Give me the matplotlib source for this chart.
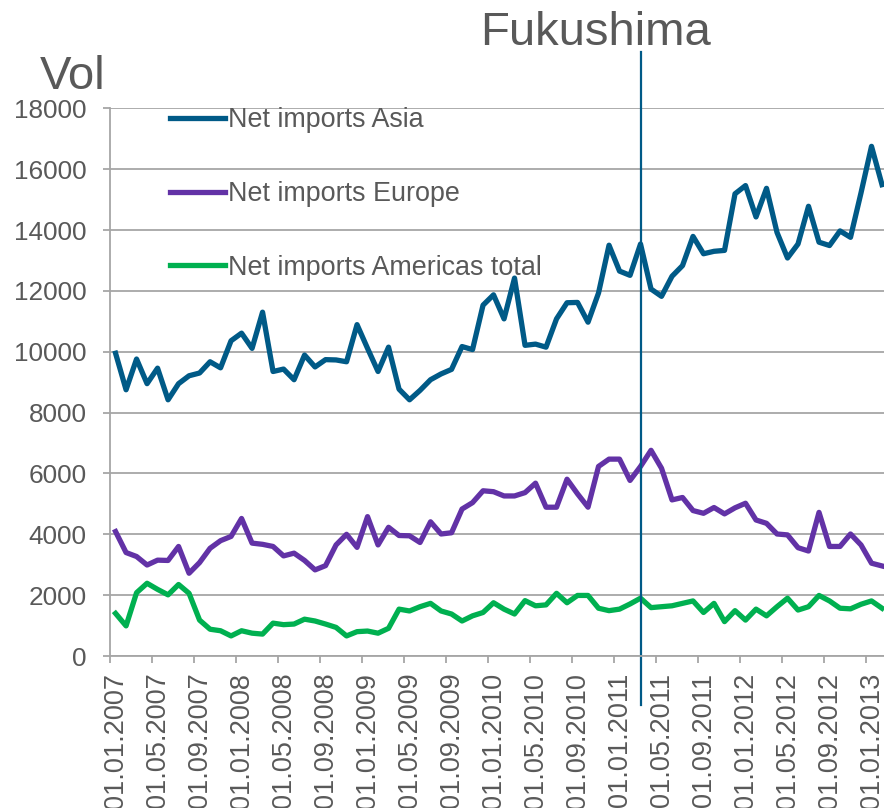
import matplotlib
matplotlib.use("Agg")
import matplotlib.pyplot as plt
import numpy as np
import pandas as pd

plt.rcParams['font.family'] = ['Liberation Sans', 'DejaVu Sans']

# monthly categories, Jan 2007 - Feb 2013
months = pd.date_range("2007-01-01", periods=74, freq="MS")
tick_every = 4

asia = [9950, 8750, 9760, 8950, 9460, 8420, 8950, 9210, 9300, 9670,
        9470, 10360, 10610, 10110, 11300, 9350, 9430, 9080, 9890, 9500,
        9740, 9730, 9670, 10890, 10110, 9350, 10150, 8770, 8420, 8730,
        9080, 9270, 9420, 10170, 10070, 11530, 11870, 11080, 12420, 10210,
        10250, 10150, 11080, 11610, 11620, 10970, 11930, 13500, 12650, 12510,
        13540, 12060, 11820, 12480, 12830, 13790, 13220, 13300, 13330, 15190,
        15460, 14430, 15370, 13920, 13080, 13540, 14780, 13600, 13490, 13970,
        13760, 15220, 16750, 15490]

europe = [4090, 3400, 3270, 2990, 3150, 3140, 3600, 2720, 3070, 3540,
          3790, 3930, 4520, 3710, 3670, 3600, 3290, 3380, 3140, 2830,
          2970, 3650, 4000, 3570, 4580, 3650, 4230, 3960, 3950, 3730,
          4410, 4010, 4050, 4830, 5040, 5430, 5400, 5260, 5260, 5370,
          5680, 4890, 4890, 5810, 5330, 4890, 6230, 6470, 6470, 5770,
          6230, 6760, 6170, 5130, 5210, 4780, 4690, 4880, 4670, 4870,
          5020, 4470, 4360, 4010, 3980, 3560, 3450, 4720, 3600, 3600,
          4010, 3650, 3050, 2960]

americas = [1400, 990, 2080, 2390, 2190, 2010, 2350, 2060, 1180, 880,
            830, 660, 830, 750, 720, 1080, 1030, 1050, 1210, 1150,
            1050, 940, 660, 800, 820, 750, 910, 1540, 1480, 1620,
            1730, 1480, 1380, 1150, 1320, 1430, 1750, 1540, 1380, 1820,
            1650, 1680, 2060, 1750, 1990, 1990, 1570, 1490, 1540, 1710,
            1900, 1590, 1620, 1650, 1730, 1810, 1430, 1730, 1130, 1490,
            1180, 1540, 1320, 1620, 1900, 1510, 1620, 1990, 1810, 1570,
            1550, 1700, 1810, 1570]

series_names = ["Net imports Asia", "Net imports Europe", "Net imports Americas total"]
colors = ["#005A87", "#6232A6", "#00B050"]
event_label = "Fukushima"
event_index = 50  # March 2011

text_col = "#595959"
grid_col = "#A6A6A6"

fig = plt.figure(figsize=(8.84, 8.08), dpi=100)
ax = fig.add_axes([110 / 884, 152 / 808, 774 / 884, 547.7 / 808])

x = np.arange(len(months))
for vals, name, c in zip([asia, europe, americas], series_names, colors):
    ax.plot(x, vals, color=c, lw=3.8, label=name, solid_joinstyle="round")

ax.set_ylim(0, 18000)
ax.set_xlim(-0.53, 73.19)
ax.set_yticks(np.arange(0, 18001, 2000))
ax.yaxis.grid(True, color=grid_col, lw=1.3)
ax.set_axisbelow(True)

# tick marks between categories, labels centred on the month
ax.set_xticks(np.arange(-0.5, len(months), tick_every))
ax.set_xticklabels([])
ax.set_xticks(x[::tick_every], minor=True)
ax.set_xticklabels([d.strftime("%d.%m.%Y") for d in months[::tick_every]],
                   minor=True, rotation=90, va="top", ha="center")
ax.tick_params(axis="x", which="major", length=5, width=1.3, color=grid_col)
ax.tick_params(axis="x", which="minor", length=0, pad=12, labelsize=19.5, labelcolor=text_col)
ax.tick_params(axis="y", length=5, width=1.3, color=grid_col, pad=12,
               labelsize=18.8, labelcolor=text_col)

for s in ["top", "right"]:
    ax.spines[s].set_visible(False)
for s in ["left", "bottom"]:
    ax.spines[s].set_color(grid_col)
    ax.spines[s].set_linewidth(1.3)

# event line
ax.plot([event_index, event_index], [-1610, 19850], color=colors[0], lw=1.6, clip_on=False)
fig.text(595 / 884, 1 - 33 / 808, event_label, fontsize=34, color=text_col,
         ha="center", va="center")
fig.text(40 / 884, 1 - 77 / 808, "Vol", fontsize=34, color=text_col,
         ha="left", va="center")

leg = ax.legend(loc="upper left", bbox_to_anchor=(170 / 884, 1 - 107 / 808),
                bbox_transform=fig.transFigure, frameon=False, fontsize=19.4,
                handlelength=2.05, handletextpad=0.1, labelspacing=1.78,
                borderpad=0, borderaxespad=0)
for t in leg.get_texts():
    t.set_color(text_col)

fig.savefig("out.png", dpi=100)
